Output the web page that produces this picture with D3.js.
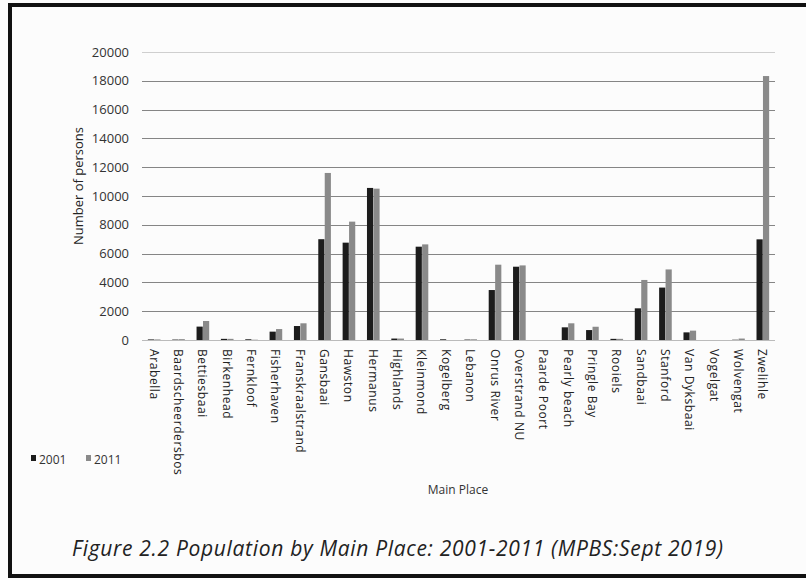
<!DOCTYPE html>
<html>
<head>
<meta charset="utf-8">
<script src="https://cdn.jsdelivr.net/npm/d3@7"></script>
<style>
  body { margin: 0; background: #fff; overflow: hidden; }
  svg { display: block; font-family: 'Open Sans', 'DejaVu Sans', sans-serif; }
</style>
</head>
<body>
<div id="chart"></div>
<script>
// Population by main place, 2001 vs 2011
const places = ['Arabella', 'Baardscheerdersbos', 'Bettiesbaai', 'Birkenhead', 'Fernkloof',
  'Fisherhaven', 'Franskraalstrand', 'Gansbaai', 'Hawston', 'Hermanus', 'Highlands',
  'Kleinmond', 'Kogelberg', 'Lebanon', 'Onrus River', 'Overstrand NU', 'Paarde Poort',
  'Pearly beach', 'Pringle Bay', 'Rooiels', 'Sandbaai', 'Stanford', 'Van Dyksbaai',
  'Vogelgat', 'Wolvengat', 'Zwelihle'];
const pop2001 = [40, 30, 930, 80, 50, 580, 970, 7000, 6760, 10560, 100, 6480, 50, 30,
  3470, 5090, 0, 880, 690, 80, 2200, 3640, 530, 0, 20, 6990];
const pop2011 = [40, 60, 1320, 80, 20, 760, 1160, 11600, 8220, 10510, 100, 6640, 0, 50,
  5230, 5180, 0, 1160, 920, 80, 4170, 4900, 650, 0, 100, 18330];
const years = ['2001', '2011'];
const yTicks = [0, 2000, 4000, 6000, 8000, 10000, 12000, 14000, 16000, 18000, 20000];

const W = 806, H = 580;
const margin = {top: 52, right: 31, bottom: 240, left: 142};
const width = W - margin.left - margin.right;
const height = H - margin.top - margin.bottom;

const colors = {'2001': '#1c1c1c', '2011': '#8a8a8a'};

const root = d3.select('#chart')
  .append('svg')
  .attr('width', W)
  .attr('height', H);

root.append('rect')
  .attr('width', W).attr('height', H)
  .attr('fill', '#fcfcfc');

// outer frame (top, left, bottom only - right side is cut off)
root.append('path')
  .attr('d', `M${W},5 H10 V576 H${W}`)
  .attr('fill', 'none')
  .attr('stroke', '#111')
  .attr('stroke-width', 4);

const svg = root.append('g')
  .attr('transform', `translate(${margin.left},${margin.top})`);

const x0 = d3.scaleBand()
  .domain(places)
  .range([0, width])
  .paddingInner(0.46)
  .paddingOuter(0.23);
const x1 = d3.scaleBand()
  .domain(years)
  .range([0, x0.bandwidth()])
  .padding(0.04);
const y = d3.scaleLinear()
  .domain([0, 20000])
  .range([height, 0]);

// grid lines
svg.append('g')
  .attr('class', 'grid')
  .selectAll('line')
  .data(yTicks)
  .join('line')
  .attr('x1', 0)
  .attr('x2', width)
  .attr('y1', d => Math.round(y(d)) + 0.5)
  .attr('y2', d => Math.round(y(d)) + 0.5)
  .attr('stroke', d => d === 20000 ? '#cfcfcf' : (d === 0 ? '#bbb' : '#858585'))
  .attr('stroke-width', 1);

// y axis labels
const yAxis = svg.append('g')
  .call(d3.axisLeft(y).tickValues(yTicks).tickSize(0).tickPadding(13).tickFormat(d3.format('d')));
yAxis.select('.domain').remove();
yAxis.selectAll('text')
  .style('font-size', '13px')
  .style('font-family', "'Open Sans', sans-serif")
  .attr('fill', '#333');

// bars
const groups = svg.append('g')
  .selectAll('g')
  .data(places.map((p, i) => ({place: p, values: [pop2001[i], pop2011[i]]})))
  .join('g')
  .attr('transform', d => `translate(${x0(d.place)},0)`);

groups.selectAll('rect')
  .data(d => d.values.map((v, i) => ({year: years[i], value: v})))
  .join('rect')
  .attr('x', d => x1(d.year))
  .attr('width', x1.bandwidth())
  .attr('y', d => y(d.value))
  .attr('height', d => height - y(d.value))
  .attr('fill', d => colors[d.year]);

// x axis labels, rotated
const xAxis = svg.append('g')
  .attr('transform', `translate(0,${height})`)
  .call(d3.axisBottom(x0).tickSize(0).tickPadding(0));
xAxis.select('.domain').remove();
xAxis.selectAll('text')
  .attr('transform', 'rotate(90)')
  .attr('text-anchor', 'start')
  .attr('dominant-baseline', 'central')
  .attr('x', 9)
  .attr('y', 0)
  .attr('dy', null)
  .style('font-size', '12px')
  .style('letter-spacing', '0.6px')
  .style('font-family', "'Open Sans', sans-serif")
  .attr('fill', '#222');

// y title
svg.append('text')
  .attr('transform', `translate(-64, ${height / 2 - 10}) rotate(-90)`)
  .attr('text-anchor', 'middle')
  .attr('dominant-baseline', 'central')
  .style('font-size', '13px')
  .attr('fill', '#222')
  .text('Number of persons');

// x title
root.append('text')
  .attr('x', 458)
  .attr('y', 494)
  .attr('text-anchor', 'middle')
  .style('font-size', '12px')
  .attr('fill', '#333')
  .text('Main Place');

// legend
const legend = root.append('g').attr('transform', 'translate(31,459)');
years.forEach((yr, i) => {
  const g = legend.append('g').attr('transform', `translate(${i * 55},0)`);
  g.append('rect')
    .attr('x', 0).attr('y', -4)
    .attr('width', 5).attr('height', 6)
    .attr('fill', colors[yr]);
  g.append('text')
    .attr('x', 8).attr('y', 0)
    .attr('dominant-baseline', 'central')
    .style('font-size', '12px')
    .attr('fill', '#333')
    .text(yr);
});

// caption
root.append('text')
  .attr('x', 72)
  .attr('y', 556)
  .attr('textLength', 651)
  .attr('lengthAdjust', 'spacing')
  .style('font-size', '21px')
  .style('font-style', 'italic')
  .attr('fill', '#222')
  .text('Figure 2.2 Population by Main Place: 2001-2011 (MPBS:Sept 2019)');
</script>
</body>
</html>
